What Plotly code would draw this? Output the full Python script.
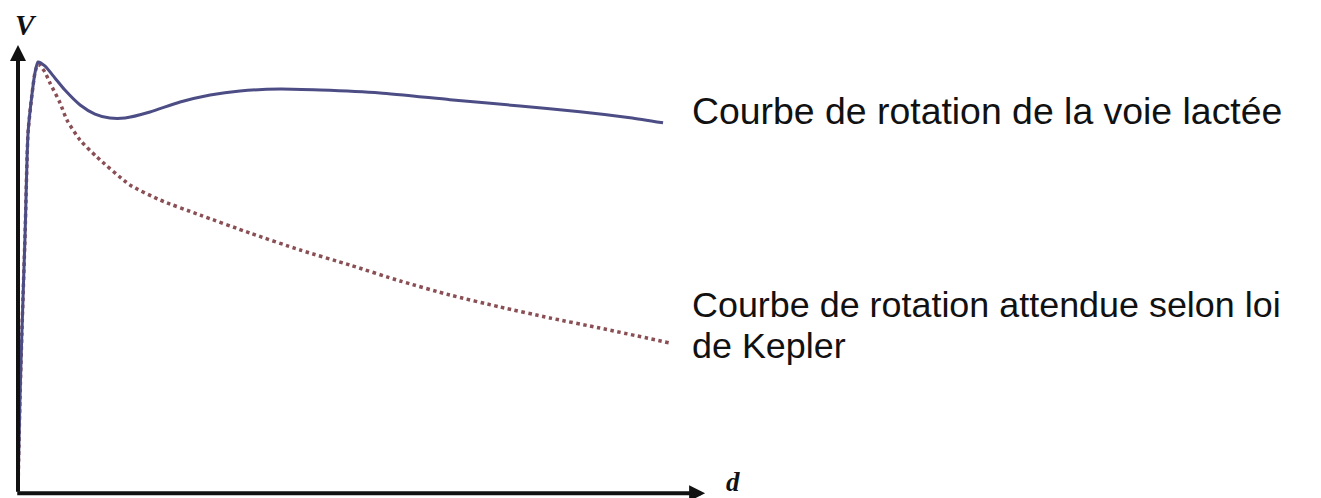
import plotly.graph_objects as go

# Milky Way observed rotation curve (distance d, arbitrary kpc-like units; speed V in km/s-like units)
d_obs = [0, 0.06, 0.12, 0.22, 0.31, 0.43, 0.53, 0.62, 0.83, 1.14, 1.45, 1.92, 2.38, 2.84, 3.31,
         4.08, 5.01, 5.94, 6.86, 8.10, 9.34, 11.19, 13.35, 15.52, 17.37, 18.92, 19.94]
v_obs = [0, 52.6, 91.7, 150.1, 208.5, 230.7, 244.2, 250.0, 247.7, 240.7, 233.6, 224.9, 219.6, 217.3, 217.3,
         220.8, 226.6, 230.7, 233.1, 234.2, 233.6, 231.9, 228.0, 224.3, 221.0, 217.5, 214.5]

# Expected Keplerian rotation curve
d_kep = [0, 0.06, 0.12, 0.22, 0.31, 0.43, 0.53, 0.62, 0.83, 0.99, 1.30, 1.51, 1.92, 2.44, 3.46,
         4.39, 5.63, 7.17, 8.72, 10.26, 11.81, 13.35, 14.90, 16.44, 17.99, 20.15]
v_kep = [0, 52.6, 91.7, 150.1, 208.5, 230.7, 244.2, 248.8, 244.2, 237.7, 226.1, 216.2, 204.4, 194.5, 178.2,
         169.4, 160.6, 150.1, 140.2, 131.4, 122.1, 113.9, 106.9, 100.5, 94.6, 85.9]

label_obs = "Courbe de rotation de la voie lactée"
label_kep_1 = "Courbe de rotation attendue selon loi"
label_kep_2 = "de Kepler"
axis_v = "V"
axis_d = "d"

OFF = 8  # page body margin
W, H = 1321 - OFF, 498 - OFF
fig = go.Figure()
fig.add_trace(go.Scatter(x=d_kep, y=v_kep, mode="lines",
                         line=dict(color="#8a4f55", width=3.5, dash="dot", shape="spline", smoothing=0.6),
                         hoverinfo="skip"))
fig.add_trace(go.Scatter(x=d_obs, y=v_obs, mode="lines",
                         line=dict(color="#4d4d86", width=3, shape="spline", smoothing=0.6),
                         hoverinfo="skip"))

# axis arrows (data coordinates)
fig.add_annotation(x=0, y=260, ax=0, ay=-1.9, xref="x", yref="y", axref="x", ayref="y",
                   showarrow=True, arrowhead=2, arrowsize=0.8, arrowwidth=4, arrowcolor="#111111", text="")
fig.add_annotation(x=21.24, y=-1.9, ax=-0.07, ay=-1.9, xref="x", yref="y", axref="x", ayref="y",
                   showarrow=True, arrowhead=2, arrowsize=0.8, arrowwidth=4, arrowcolor="#111111", text="")

def px(x):
    return (x - OFF) / W

def py(y):
    return 1 - (y - OFF) / H

fig.add_annotation(x=px(26), y=1, xref="paper", yref="paper", text="<b><i>" + axis_v + "</i></b>",
                   xanchor="center", yanchor="top", borderpad=0,
                   showarrow=False, font=dict(family="Liberation Serif", size=29, color="#111111"))
fig.add_annotation(x=px(733), y=0, xref="paper", yref="paper", text="<b><i>" + axis_d + "</i></b>",
                   xanchor="center", yanchor="bottom", borderpad=0,
                   showarrow=False, font=dict(family="Liberation Serif", size=27, color="#111111"))

fig.add_annotation(x=px(690), y=py(111), xref="paper", yref="paper", text=label_obs, showarrow=False,
                   xanchor="left", yanchor="middle", font=dict(family="Liberation Sans", size=37.4, color="#111111"))
fig.add_annotation(x=px(690), y=py(305), xref="paper", yref="paper", text=label_kep_1, showarrow=False,
                   xanchor="left", yanchor="middle", font=dict(family="Liberation Sans", size=35.9, color="#111111"))
fig.add_annotation(x=px(690), y=py(346), xref="paper", yref="paper", text=label_kep_2, showarrow=False,
                   xanchor="left", yanchor="middle", font=dict(family="Liberation Sans", size=35.9, color="#111111"))

sx = 647 / 20.0
sy = 428 / 250.0
x0 = 18 - OFF   # pixel of d = 0
y0 = 490 - OFF  # pixel of V = 0
fig.update_layout(
    width=W, height=H, margin=dict(l=0, r=0, t=0, b=0),
    paper_bgcolor="white", plot_bgcolor="white", showlegend=False,
    xaxis=dict(range=[-x0 / sx, (W - x0) / sx], visible=False, fixedrange=True),
    yaxis=dict(range=[-(H - y0) / sy, y0 / sy], visible=False, fixedrange=True),
)
fig.write_html("out.html")
